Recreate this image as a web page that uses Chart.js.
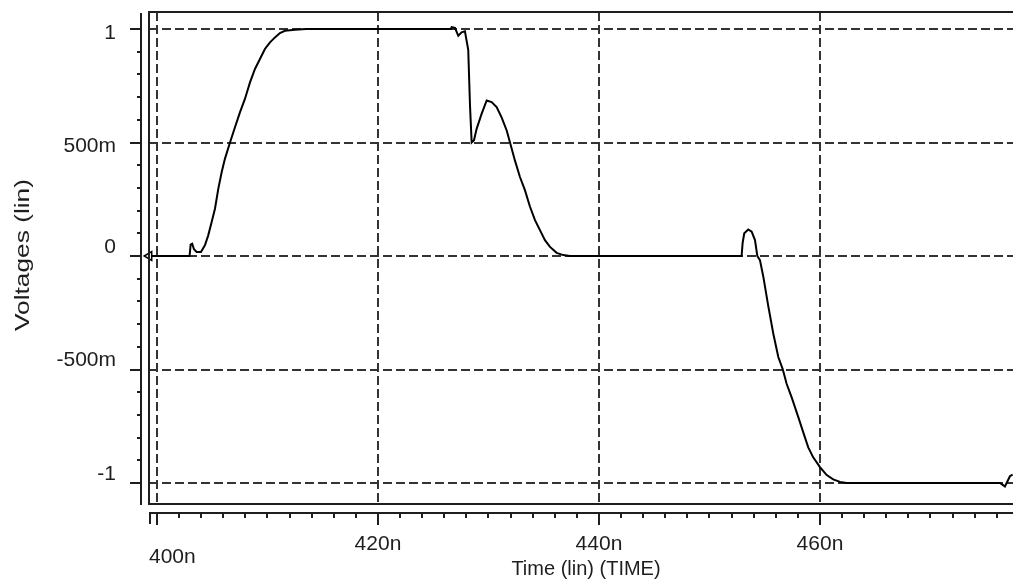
<!DOCTYPE html>
<html>
<head>
<meta charset="utf-8">
<script src="https://cdn.jsdelivr.net/npm/chart.js@4/dist/chart.umd.min.js"></script>
<style>
  html, body { margin: 0; padding: 0; background: #ffffff; }
  #wrap { width: 1013px; height: 582px; position: relative; }
</style>
</head>
<body>
<div id="wrap"><canvas id="c" width="1013" height="582"></canvas></div>
<script>
// ---- data (time in ns, voltage in V) ----
const timeNs = [
  399.3, 402.95, 403.05, 403.19, 403.35, 403.59, 403.98, 404.34, 404.64, 404.95,
  405.25, 405.55, 405.86, 406.15, 406.61, 407.06, 407.51, 407.96, 408.42, 408.87,
  409.32, 409.77, 410.23, 410.68, 411.13, 411.58, 412.49, 413.5, 426.6, 426.67,
  426.97, 427.27, 427.57, 427.87, 428.17, 428.33, 428.48, 428.69, 428.93, 429.38,
  429.84, 430.29, 430.74, 431.19, 431.65, 431.95, 432.40, 432.85, 433.30, 433.76,
  434.21, 434.66, 435.11, 435.57, 436.17, 436.77, 437.38, 452.91, 453.00, 453.15,
  453.51, 453.82, 454.12, 454.33, 454.57, 454.87, 455.32, 455.77, 456.23, 456.62,
  456.99, 457.44, 458.04, 458.49, 458.94, 459.39, 460.00, 460.61, 461.20, 461.81,
  462.42, 476.29, 476.74, 477.19, 477.44
];
const voltage = [
  0, 0, 0.05, 0.054, 0.03, 0.018, 0.018, 0.047, 0.091, 0.15,
  0.208, 0.296, 0.37, 0.428, 0.5, 0.567, 0.633, 0.692, 0.765, 0.824,
  0.868, 0.912, 0.941, 0.963, 0.982, 0.992, 0.997, 1.0, 1.0, 1.008,
  1.005, 0.97, 0.985, 0.99, 0.908, 0.663, 0.5, 0.51, 0.56, 0.626,
  0.685, 0.678, 0.656, 0.611, 0.553, 0.5, 0.42, 0.348, 0.29, 0.217,
  0.158, 0.114, 0.07, 0.04, 0.014, 0.004, 0, 0, 0.057, 0.1,
  0.117, 0.107, 0.07, 0, -0.018, -0.09, -0.22, -0.34, -0.445, -0.497,
  -0.564, -0.623, -0.71, -0.777, -0.843, -0.887, -0.93, -0.965, -0.984, -0.995,
  -1.0, -1.0, -1.015, -0.97, -0.963
];
const xTickValues = [400, 420, 440, 460];
const xTickLabels = ['400n', '420n', '440n', '460n'];
const yTickValues = [1, 0.5, 0, -0.5, -1];
const yTickLabels = ['1', '500m', '0', '-500m', '-1'];
const xTitle = 'Time (lin) (TIME)';
const yTitle = 'Voltages (lin)';
const xRange = [399.28, 477.47];
const yRange = [-1.0925, 1.0749];

// ---- styling ----
const INK = '#1e1e1e';
const GRID = '#333333';
const FONT = '"Liberation Sans", Arial, sans-serif';

const axesPlugin = {
  id: 'spiceAxes',
  afterDraw(chart) {
    const { ctx, chartArea: a, scales: { x, y } } = chart;
    const right = chart.width;
    ctx.save();
    ctx.strokeStyle = INK;
    ctx.fillStyle = INK;
    ctx.lineWidth = 2;
    // plot frame (top, left, bottom)
    ctx.beginPath();
    ctx.moveTo(right, a.top); ctx.lineTo(a.left, a.top);
    ctx.lineTo(a.left, a.bottom); ctx.lineTo(right, a.bottom);
    ctx.stroke();
    // detached y axis
    const yAxisX = a.left - 8;
    ctx.beginPath();
    ctx.moveTo(yAxisX, a.top + 1); ctx.lineTo(yAxisX, a.bottom + 1);
    ctx.stroke();
    for (let i = -10; i <= 10; i++) {
      const py = Math.round(y.getPixelForValue(i / 10));
      const major = i % 5 === 0;
      ctx.beginPath();
      ctx.moveTo(yAxisX - (major ? 11 : 4), py); ctx.lineTo(yAxisX, py);
      ctx.stroke();
    }
    // detached x axis
    const xAxisY = a.bottom + 9;
    ctx.beginPath();
    ctx.moveTo(a.left, xAxisY); ctx.lineTo(right, xAxisY);
    ctx.stroke();
    ctx.beginPath();
    ctx.moveTo(a.left + 1, xAxisY); ctx.lineTo(a.left + 1, xAxisY + 11);
    ctx.stroke();
    for (let t = 400; t <= 476; t += 2) {
      const px = Math.round(x.getPixelForValue(t));
      const major = t % 20 === 0;
      ctx.beginPath();
      ctx.moveTo(px, xAxisY); ctx.lineTo(px, xAxisY + (major ? 12 : 5));
      ctx.stroke();
    }
    // y tick labels
    ctx.font = '21px ' + FONT;
    ctx.textAlign = 'right';
    ctx.textBaseline = 'middle';
    const yLabelShift = [4, 4, -9, -9, -9];
    yTickValues.forEach((v, i) => {
      ctx.fillText(yTickLabels[i], 116, y.getPixelForValue(v) + yLabelShift[i]);
    });
    // x tick labels
    xTickValues.forEach((v, i) => {
      const px = x.getPixelForValue(v);
      if (i === 0) {
        ctx.textAlign = 'left';
        ctx.fillText(xTickLabels[i], a.left, 557);
      } else {
        ctx.textAlign = 'center';
        ctx.fillText(xTickLabels[i], px, 544);
      }
    });
    // titles
    ctx.font = '20px ' + FONT;
    ctx.textAlign = 'center';
    ctx.fillText(xTitle, 586, 569);
    ctx.font = '21px ' + FONT;
    const w = ctx.measureText(yTitle).width;
    ctx.translate(23, 255);
    ctx.rotate(-Math.PI / 2);
    ctx.scale(152 / w, 1);
    ctx.fillText(yTitle, 0, 0);
    ctx.restore();
  }
};

new Chart(document.getElementById('c'), {
  type: 'line',
  data: {
    datasets: [{
      data: timeNs.map((t, i) => ({ x: t, y: voltage[i] })),
      borderColor: '#000000',
      borderWidth: 2,
      tension: 0,
      clip: false,
      pointRadius: (c) => (c.dataIndex === 0 ? 5 : 0),
      pointStyle: 'triangle',
      rotation: -90,
      pointBackgroundColor: '#ffffff',
      pointBorderColor: '#000000',
      pointBorderWidth: 1.5,
      pointHoverRadius: 0
    }]
  },
  plugins: [axesPlugin],
  options: {
    responsive: false,
    animation: false,
    devicePixelRatio: 1,
    layout: { autoPadding: false, padding: { left: 149, top: 12, right: 0, bottom: 78 } },
    plugins: { legend: { display: false }, tooltip: { enabled: false } },
    scales: {
      x: {
        type: 'linear',
        min: xRange[0], max: xRange[1],
        afterBuildTicks: (s) => { s.ticks = xTickValues.map(v => ({ value: v })); },
        afterFit: (s) => { s.height = 0; s.paddingLeft = 0; s.paddingRight = 0; },
        ticks: { display: false },
        grid: { color: GRID, lineWidth: 2, drawTicks: false },
        border: { display: false, dash: [9, 4] }
      },
      y: {
        type: 'linear',
        min: yRange[0], max: yRange[1],
        afterBuildTicks: (s) => { s.ticks = yTickValues.map(v => ({ value: v })); },
        afterFit: (s) => { s.width = 0; s.paddingTop = 0; s.paddingBottom = 0; },
        ticks: { display: false },
        grid: { color: GRID, lineWidth: 2, drawTicks: false },
        border: { display: false, dash: [9, 4] }
      }
    }
  }
});
</script>
</body>
</html>
